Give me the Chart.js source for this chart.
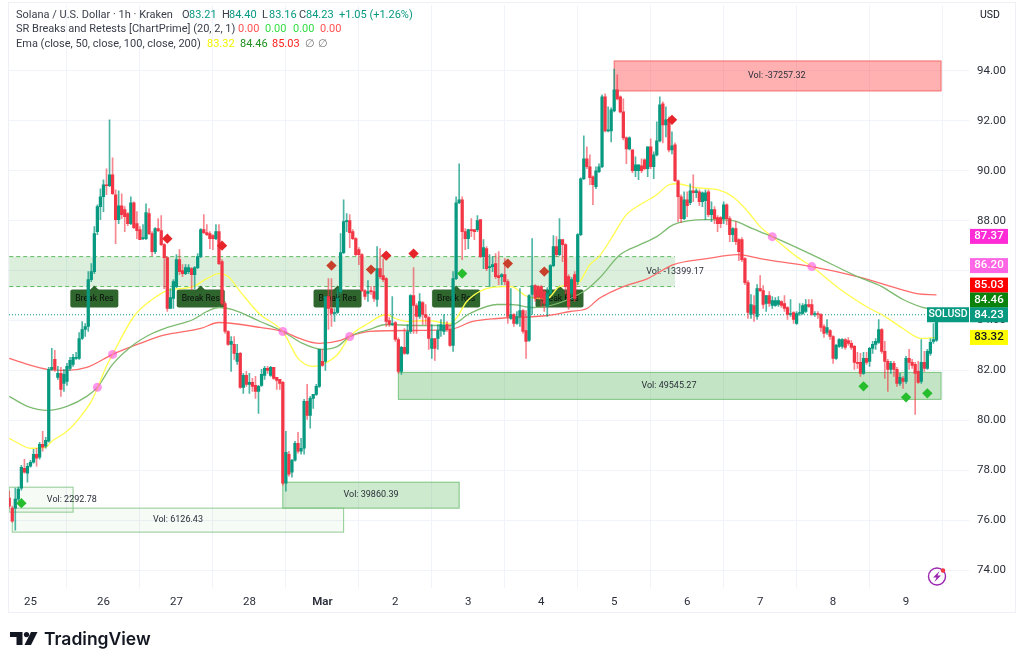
<!DOCTYPE html>
<html>
<head>
<meta charset="utf-8">
<style>
  html, body { margin: 0; padding: 0; background: #fff; }
  #wrap { position: relative; width: 1024px; height: 666px; }
</style>
<script src="https://cdn.jsdelivr.net/npm/chart.js@4"></script>
</head>
<body>
<div id="wrap"><canvas id="chart" width="1024" height="666"></canvas></div>
<script>
// hours counted from 25 Feb 00:00, first candle is at -7
const firstHour = -7;

const opens = [
  76.88,76.48,76.48,76.84,77.28,78.08,77.88,78.16,78.32,78.64,78.52,79.04,
  78.96,79.16,82.04,82.44,81.72,81.88,81.48,81.56,82.08,82.24,82.48,82.48,
  83.28,83.64,83.76,85.64,85.96,87.56,88.56,88.96,89.44,89.4,89.84,89.04,
  88.04,88.6,88.44,88.28,87.88,88.72,87.88,87.64,87.28,87.28,88.28,87.48,
  86.76,87.68,87.6,87.04,86.52,84.48,84.88,85.36,86.44,86,85.88,85.96,
  86.08,85.84,86.12,86.56,87.64,87.52,87.48,87.4,87.28,87.56,86.36,84.68,
  83.56,83.04,83.04,82.36,82.68,81.32,81.8,81.44,81.52,81.4,81.16,81.4,
  81.8,82.08,81.8,82.12,81.72,81.64,81.52,77.48,78.64,77.92,78.4,79.08,
  78.76,78.88,80.76,80.2,80.88,81.04,81.36,82.36,82.36,84.96,84.48,84.28,
  84.32,85.16,86.72,87.96,88,87.56,87.28,86.84,86.64,85.2,85.08,85.2,
  85.16,84.84,86.08,85.8,85.68,84,83.84,83.92,83.24,81.96,82.92,82.68,
  83.56,85,84.6,84.16,84.72,84.24,84.12,82.88,83.28,83.28,83.6,83.56,
  83.84,83.64,83,85.68,88.72,88.84,87.56,87.28,87.64,87.64,87.64,88.04,
  86.56,86.88,86.12,86.16,86.28,85.8,85.76,85.84,85.56,84.08,84.24,83.88,
  84.16,84.4,83.6,83.2,85.04,85.4,85.36,85.36,85.16,84.56,85.08,86.2,
  86.96,86.64,87.24,87.04,85.76,85.08,85.84,85.56,87.44,89.68,90.48,90.16,
  89.76,89.36,89.96,90.16,92.96,91.6,91.6,92.4,93.24,92.96,92.36,91.32,
  90.88,90.84,90,90,90.2,90.44,90.08,90.96,90.16,90.64,91.2,92.68,
  91.84,92.04,90.84,91.04,89.6,88.96,88.08,88.84,88.72,89.2,89.12,89.16,
  88.76,88.8,89.16,88.24,88.44,88.12,88.12,88.08,88.64,88.08,87.44,87.68,
  87.24,87.24,86.48,85.52,84.24,84.6,84.16,85.28,85.2,84.68,85,84.6,
  84.6,84.64,84.76,84.68,84.52,84.24,84.32,83.88,84.28,84.28,84.36,84.64,
  84.64,84.24,84.28,84.24,83.76,83.52,83.6,83.36,82.48,82.96,82.96,83.24,
  83.2,83.08,82.96,82.32,82.32,81.88,82.48,82.36,82.88,83.04,83.12,83.64,
  82.76,82.36,82.04,82.28,82.04,81.48,81.68,81.56,82.48,82.32,82.24,81.96,
  81.56,82.32,82.08,82.68,83.16,83.21
];
const closes = [
  76.56,75.96,76.84,77.24,78.12,77.92,78.16,78.32,78.64,78.48,79.04,78.92,
  79.2,82.04,82.12,82.04,81.88,81.24,81.84,82.16,82.4,82.52,82.52,83.28,
  83.64,83.76,85.64,85.96,87.48,88.56,88.96,89.44,89.4,89.84,89.08,88.04,
  88.6,88.24,88.16,87.88,88.72,87.72,87.6,87.24,87.32,88.32,87.48,86.76,
  87.68,87.6,87.04,86.52,84.48,84.92,85.56,86.44,85.96,85.88,86.12,86.12,
  85.84,86.12,86.56,87.64,87.52,87.44,87.28,87.28,87.56,86.28,84.68,83.56,
  83.04,83.16,82.68,82.68,81.32,81.8,81.44,81.52,81.36,81.16,81.36,81.84,
  82.08,82,82.12,81.68,81.6,81.48,77.48,78.72,77.84,78.4,79.08,78.76,
  78.88,80.76,80.2,80.88,81.04,81.36,82.84,82.2,84.96,84.48,84.28,84.32,
  84.88,86.72,87.96,88,87.52,87.28,86.64,86.64,85.2,84.96,85.16,85.16,
  84.88,86.08,85.76,85.64,83.96,83.84,83.88,83.24,81.96,82.92,82.68,83.56,
  85,84.6,84.16,84.76,84.24,84.12,83.28,83.28,82.88,83.6,83.84,83.8,
  83.64,83,85.68,88.72,88.84,87.56,87.28,87.64,87.6,87.56,88,86.56,
  86.92,86.08,86.16,86.24,85.76,85.72,85.84,85.56,84.16,84.24,83.88,84.16,
  84.4,83.56,83.16,85,85.4,84.88,84.96,84.88,84.68,85.08,86.2,86.96,
  86.64,87.24,87.04,85.36,84.56,85.64,84.88,87.44,89.68,90.48,90.16,89.72,
  89.44,90,90.16,92.96,91.6,91.64,92.44,93.24,92.88,92.36,91.32,90.88,
  91.32,90,90.24,90.24,90,90.08,90.96,90.16,90.64,91.2,92.64,91.84,
  92.04,90.84,91,89.6,88.96,88.08,88.84,88.6,89.2,89.12,89.2,88.76,
  89.12,89.12,88.24,88.44,88.08,87.88,87.88,88.64,88.08,87.44,87.68,87.16,
  86.76,86.44,85.52,84.32,84.64,84.28,85.28,85.2,84.64,85,84.68,84.8,
  84.8,84.8,84.6,84.48,84.24,84.28,84.04,84.28,84.32,84.6,84.64,84.56,
  84.24,84.28,84.24,83.72,83.48,83.72,83.36,82.48,83,83.24,83.24,82.92,
  83.08,82.92,82.32,82.28,81.88,82.48,82.32,82.88,83.04,83.16,83.64,82.76,
  82.36,82.04,82.28,82.04,81.48,81.72,81.56,82.48,82.32,82.2,81.88,81.52,
  82.32,82.08,82.76,83.12,83.24,84.23
];
const highs = [
  77.16,76.56,77.28,77.32,78.2,78.44,78.28,78.4,78.84,78.88,79.12,79.56,
  79.32,82.12,82.88,82.8,82.16,82.12,82.04,82.28,82.52,82.64,82.72,83.52,
  83.96,83.88,85.96,86.28,87.76,88.64,89.28,89.64,90.08,92.04,90.52,89.24,
  89.2,89.08,88.56,88.32,88.96,88.76,88.36,87.76,87.84,88.68,88.48,87.56,
  87.72,88.08,88.2,87.08,86.56,85.28,85.64,86.64,86.84,86.24,86.24,86.24,
  86.12,86.16,86.68,87.68,88.24,87.84,87.56,87.44,87.84,87.84,86.44,84.76,
  83.6,83.36,83.36,83.04,82.72,81.88,81.96,81.88,81.68,81.76,81.4,82.04,
  82.16,82.16,82.16,82.12,81.72,81.64,81.56,79.56,78.76,78.44,79.16,79.52,
  79.28,80.84,81.44,80.96,81.04,81.44,82.84,82.84,84.96,85.68,85.68,84.48,
  85.28,87.48,88.84,88.28,88.24,87.64,87.32,86.92,86.68,85.24,85.6,85.36,
  85.36,86.96,86.88,86.48,85.72,84.12,84.96,83.96,83.32,82.96,83.68,83.84,
  85.04,86.12,84.68,85.08,84.76,84.64,84.16,83.84,83.28,83.84,84.04,84.24,
  83.96,83.84,85.96,88.96,90.28,88.96,87.68,87.64,88.08,87.64,88.2,88.04,
  87.24,86.96,86.64,86.56,86.68,86.76,85.88,86.48,85.64,85.28,84.28,84.36,
  85.28,84.44,84.4,85.04,87.28,85.44,85.4,85.4,85.24,85.32,86.24,87.4,
  87.36,88.08,87.24,87.08,85.84,85.72,85.96,87.48,89.72,91.4,90.96,90.64,
  89.8,90.16,90.28,93.04,93.08,92.56,92.52,94.08,93.84,93,92.88,91.36,
  91.36,90.84,90.56,90.24,90.48,90.48,90.96,91.28,90.76,91.96,92.96,92.76,
  92.56,92.16,91.56,91.12,89.64,89.04,89.16,89.16,89.48,89.84,89.28,89.24,
  89.16,89.24,89.24,88.76,88.56,88.2,88.16,88.76,88.68,88.16,87.72,87.96,
  87.28,87.32,86.52,85.6,85.04,85,85.44,85.8,85.4,85,85.16,84.96,
  84.92,84.96,84.8,85,84.56,84.84,84.36,84.36,84.68,84.68,84.84,84.84,
  84.84,84.36,84.36,84.28,83.84,84.04,83.64,83.4,83.04,83.28,83.28,83.28,
  83.32,83.2,83,82.72,82.68,82.72,82.72,82.92,83.16,83.28,84.04,83.68,
  83.16,82.44,82.36,82.36,82.12,81.88,81.76,82.56,82.84,82.44,82.32,82.36,
  83.24,82.76,82.84,83.28,83.88,84.4
];
const lows = [
  76.48,75.92,75.6,76.76,77.2,77.88,77.52,78.12,78.28,78.16,78.44,78.76,
  78.88,79.12,82,81.96,81.64,80.96,81.16,81.4,82,82.16,82.44,82.44,
  83.24,83.36,83.56,85.56,85.88,87.44,88.04,88.36,89.04,89.36,89.04,87.08,
  87.88,88.08,87.56,87.8,87.84,87.68,87.28,87.24,87.24,87.24,87.44,86.6,
  86.68,87.56,87,85.28,84.36,84.48,84.48,85.32,85.84,85.76,85.84,85.88,
  85.24,85.28,86.08,86.52,87.48,87.4,86.88,86.84,87.24,86.24,84.6,83.48,
  83,81.96,82.44,82.24,81.28,81.08,81.36,81.08,81.16,80.88,80.28,81.36,
  81.64,81.88,81.76,81.64,81.24,81.24,77.4,77.16,77.76,77.72,78.36,78.68,
  78.64,78.64,80.04,79.68,80.48,81,81.32,82.16,82,83.64,83.76,83.96,
  84.28,85.08,86.68,87.56,86.92,87.24,86.6,86.24,85.16,84.84,84.76,85.04,
  84.76,84.56,85.68,85.56,83.76,83.76,83.8,83.16,81.88,81.84,82.64,82.64,
  83.48,83.48,83.48,84.08,83.84,83.84,82.84,82.48,82.4,82.84,83.36,83.44,
  83.56,82.96,82.76,85.64,88.68,86.44,86.84,86.88,87.36,87.24,87.56,86.52,
  86.08,86,85.36,85.96,85.68,85.44,85.44,85.44,83.88,84.04,83.76,83.84,
  83.76,83.48,82.48,83.16,84.24,84.76,84.84,84.56,84.36,84.16,85.04,86.16,
  86.56,86.6,86.36,85.04,84.44,84.84,84.76,85.44,87.4,89.64,90.08,89.44,
  88.64,89.28,89.92,90.12,91.56,91.56,91.16,92.36,92.84,92.32,91.24,90.28,
  90.84,89.92,89.76,89.64,89.92,90.04,89.76,90.08,89.68,90.6,91.16,91.12,
  91.36,90.76,90.68,89.56,87.96,87.92,88.04,88.16,88.64,88.76,88.92,88.6,
  88.56,88.04,88.16,87.96,87.88,87.56,87.72,87.88,87.84,87.16,87.16,87.04,
  86.4,86.36,85.44,84.08,84.08,83.96,84.04,85.16,84.48,84.36,84.56,84.48,
  84.56,84.56,84.52,84.36,84.04,84.16,83.88,83.84,84.2,84.24,84.32,84.52,
  84.2,84.16,84.08,83.56,83.32,83.44,83.24,82.28,82.44,82.92,82.88,82.84,
  83,82.84,82.04,82.08,81.76,81.84,82.24,82.16,82.68,82.84,83.08,82.68,
  81.68,81.16,81.88,81.76,81.36,81.4,81.28,81.48,82.04,82.08,80.24,81.48,
  81.48,81.96,82.04,82.6,83.08,83.16
];

const ema50Hours = [-7,-4,0,5,7,12,16,20,22,24.5,27,34,40,45,53.5,58,62,65,69,75.5,83,88,93,96,101,105,111,117,120,124,130.5,138,140,143.5,149,155.5,158,163.5,170,174,180,184,187,191,196,200.5,206,210,212.5,219,226,231,236,240,244,252,257,266,276,280,287,293,298];
const ema50Values = [79.28,79.08,78.88,78.92,79.16,79.56,80.08,80.76,81.28,82.04,82.64,84.16,84.84,85.2,85.36,85.68,85.88,85.76,85.16,84.24,83.56,82.48,82.16,82.24,82.64,83.36,83.88,84.24,84.08,83.96,84,83.88,84.08,84.76,85.24,85.36,85.36,84.96,84.88,85.36,85.48,86.24,86.56,87.28,88.24,88.64,89.04,89.44,89.48,89.32,89.24,88.96,88.36,87.76,87.36,86.56,86.16,85.28,84.48,84.24,83.68,83.28,83.32];
const ema100Hours = [-7,-1,5.5,12,18.5,22,27,34,40,45,53.5,58,62,66.5,75.5,83,89.5,96,101,105,111.5,117,127,138,144.5,153.5,158,165.5,182,187,194,200.5,206,211.5,222.5,231,237.5,244,257,272,280,287,295,298];
const ema100Values = [80.96,80.56,80.4,80.56,80.96,81.32,82.24,83.04,83.48,83.72,84.04,84.36,84.52,84.44,83.96,83.56,83.08,82.84,82.96,83.36,83.64,83.84,83.8,83.8,84.28,84.64,84.64,84.52,85.16,85.68,86.64,87.04,87.36,87.84,88.04,88,87.68,87.36,86.64,85.76,85.36,84.84,84.48,84.46];
const ema200Hours = [-7,-1,5.5,12,18.5,27,36,43.5,56,62,66.5,75.5,83,88.5,95,102,105,111.5,127,138,145.5,153.5,170,177.5,183,187,195,203,211.5,222.5,232.5,240,244,257,272,280,291.5,298];
const ema200Values = [82.48,82.24,82.04,82,82.12,82.64,83.08,83.4,83.68,83.92,83.88,83.72,83.56,83.28,83.08,83.2,83.36,83.56,83.6,83.64,83.96,84.08,84.2,84.36,84.48,84.88,85.36,85.68,86.24,86.48,86.64,86.48,86.4,86.16,85.76,85.48,85.08,85.03];

// ema crossings
const crossHours = [22,27,83,105,244,257];
const crossPrices = [81.32,82.64,83.56,83.36,87.36,86.16];

const resistanceHours = [45,63,99,112,117,126,157,169,211];
const resistancePrices = [87.28,87,86.2,86.04,86.6,86.68,86.28,85.96,92.04];
const resistanceColors = ["#e62429","#e62429","#c8402c","#c8402c","#e62429","#e62429","#c8402c","#c8402c","#e62429"];
const supportHours = [-3,142,274,288,295];
const supportPrices = [76.68,85.88,81.36,80.92,81.08];

// volume boxes
const zoneStart = [-7,-6,83,121,192,-7];
const zoneEnd = [14,103,141,299.5,299.5,212];
const zoneTop = [77.32,76.48,77.52,81.92,94.4,86.56];
const zoneBottom = [76.32,75.52,76.48,80.84,93.2,85.36];
const zoneLabels = ["Vol: 2292.78","Vol: 6126.43","Vol: 39860.39","Vol: 49545.27","Vol: -37257.32","Vol: -13399.17"];
const zoneLabelHours = [13.6,48.5,112,210,245.5,212];

const breakHours = [21,56,101,140,174];
const breakPrices = [85.4,85.4,85.4,85.4,85.4];

const dayTicks = [0,24,48,72,96,120,144,168,192,216,240,264,288];
const dayLabels = ["25","26","27","28","Mar","2","3","4","5","6","7","8","9"];
const priceTicks = [74,76,78,80,82,84,86,88,90,92,94];

const tagValues = [87.37,86.20,85.03,84.46,84.23,83.32];
const tagColors = ["#ff2bd6","#ff66e6","#ff0000","#0b820b","#089981","#ffff00"];
const tagText = ["#fff","#fff","#fff","#fff","#fff","#131722"];
const tagNudge = [0,0,-9.7,-9,0,0];   // tradingview pushes labels apart

const UP = "#089981";
const DOWN = "#f23645";
const FONT = "Roboto, sans-serif";

const hours = opens.map((_, i) => firstHour + i);
const pairs = (xs, ys) => xs.map((x, i) => ({ x: x, y: ys[i] }));
const colour = i => closes[i] >= opens[i] ? UP : DOWN;
const wickColour = i => closes[i] >= opens[i] ? "rgba(8,153,129,0.72)" : "rgba(242,54,69,0.6)";

function emaLine(label, xs, ys, color) {
  return {
    type: "line", label: label, data: pairs(xs, ys), borderColor: color, borderWidth: 1.3,
    pointRadius: 0, cubicInterpolationMode: "monotone", order: 5
  };
}

function txt(ctx, s, x, y, color, font, align) {
  ctx.fillStyle = color;
  ctx.font = font || "11px " + FONT;
  ctx.textAlign = align || "left";
  ctx.textBaseline = "middle";
  ctx.fillText(s, x, y);
}

// boxes and flags sit under the candles
const underlay = {
  id: "underlay",
  beforeDatasetsDraw(chart) {
    const ctx = chart.ctx, sx = chart.scales.x, sy = chart.scales.y;
    ctx.save();
    ctx.beginPath();
    ctx.rect(chart.chartArea.left, chart.chartArea.top, chart.chartArea.width, chart.chartArea.height);
    ctx.clip();

    const fills = ["rgba(76,175,80,0.05)","rgba(76,175,80,0.05)","rgba(76,175,80,0.28)","rgba(76,175,80,0.33)","rgba(255,82,82,0.45)","rgba(76,175,80,0.2)"];
    const edges = ["#8fcb91","#8fcb91","#7cc47f","#7cc47f","#f56a6a","#5fbb63"];
    zoneStart.forEach((z, i) => {
      const x0 = sx.getPixelForValue(z), x1 = sx.getPixelForValue(zoneEnd[i]);
      const y0 = sy.getPixelForValue(zoneTop[i]), y1 = sy.getPixelForValue(zoneBottom[i]);
      ctx.fillStyle = fills[i];
      ctx.fillRect(x0, y0, x1 - x0, y1 - y0);
      ctx.strokeStyle = edges[i];
      ctx.lineWidth = 1;
      if (i === 5) {
        ctx.setLineDash([4, 3]);
        ctx.beginPath();
        ctx.moveTo(x0, y0); ctx.lineTo(x1, y0);
        ctx.moveTo(x0, y1); ctx.lineTo(x1, y1);
        ctx.stroke();
        ctx.setLineDash([]);
      } else {
        ctx.strokeRect(x0, y0, x1 - x0, y1 - y0);
      }
      txt(ctx, zoneLabels[i], sx.getPixelForValue(zoneLabelHours[i]), (y0 + y1) / 2, "#2a2e39", "9px " + FONT, "center");
    });

    // last price dotted line
    const py = sy.getPixelForValue(closes[closes.length - 1]);
    ctx.strokeStyle = "#089981";
    ctx.setLineDash([1, 2]);
    ctx.beginPath();
    ctx.moveTo(chart.chartArea.left, py);
    ctx.lineTo(sx.getPixelForValue(hours[hours.length - 1]), py);
    ctx.stroke();
    ctx.setLineDash([]);

    breakHours.forEach((h, i) => {
      const cx = sx.getPixelForValue(h), tip = sy.getPixelForValue(breakPrices[i]);
      ctx.fillStyle = "#2e662e";
      ctx.beginPath();
      ctx.moveTo(cx, tip);
      ctx.lineTo(cx + 5, tip + 5);
      ctx.lineTo(cx - 5, tip + 5);
      ctx.fill();
      ctx.beginPath();
      ctx.roundRect(cx - 24, tip + 4, 48, 18, 2);
      ctx.fill();
      txt(ctx, "Break Res", cx, tip + 13, "#0d0d0d", "8.6px " + FONT, "center");
    });
    ctx.restore();
  }
};

const overlay = {
  id: "overlay",
  afterDraw(chart) {
    const ctx = chart.ctx, sy = chart.scales.y;
    ctx.save();

    // panel frame
    ctx.strokeStyle = "#eef0f5";
    ctx.lineWidth = 1;
    ctx.strokeRect(8.5, 2.5, 1007, 610);

    // legend rows
    const dark = "#3a3e4a", teal = "#089981";
    txt(ctx, "Solana / U.S. Dollar \u00b7 1h \u00b7 Kraken", 16, 15, dark);
    [["O", 182, "83.21", 189], ["H", 222, "84.40", 229], ["L", 262, "83.16", 269], ["C", 299, "84.23", 306]].forEach(r => {
      txt(ctx, r[0], r[1], 15, dark);
      txt(ctx, r[2], r[3], 15, teal);
    });
    txt(ctx, "+1.05 (+1.26%)", 339, 15, teal);
    txt(ctx, "SR Breaks and Retests [ChartPrime] (20, 2, 1)", 16, 29.5, dark);
    txt(ctx, "0.00", 238, 29.5, "#ff5252");
    txt(ctx, "0.00", 265, 29.5, "#33dd44");
    txt(ctx, "0.00", 293, 29.5, "#33dd44");
    txt(ctx, "0.00", 320, 29.5, "#ff5252");
    txt(ctx, "Ema (close, 50, close, 100, close, 200)", 16, 44.5, dark);
    txt(ctx, "83.32", 207, 44.5, "#f5f500");
    txt(ctx, "84.46", 240, 44.5, "#1f8f1f");
    txt(ctx, "85.03", 272, 44.5, "#ff2020");
    txt(ctx, "\u2205", 305, 44.5, "#777");
    txt(ctx, "\u2205", 318, 44.5, "#777");

    txt(ctx, "USD", 980, 15, "#131722", "10.5px " + FONT);

    // price tags on the axis
    tagValues.forEach((v, i) => {
      const y = sy.getPixelForValue(v) + tagNudge[i];
      ctx.fillStyle = tagColors[i];
      ctx.fillRect(970, y - 7.5, 38, 15);
      txt(ctx, v.toFixed(2), 989, y, tagText[i], "500 11.5px " + FONT, "center");
    });
    const lastY = sy.getPixelForValue(tagValues[4]);
    ctx.fillStyle = UP;
    ctx.fillRect(927, lastY - 7.5, 42, 15);
    txt(ctx, "SOLUSD", 948, lastY, "#fff", "500 10.5px " + FONT, "center");

    // lightning badge
    ctx.strokeStyle = "#9c27b0";
    ctx.lineWidth = 1.4;
    ctx.beginPath();
    ctx.arc(937, 576.5, 8.5, 0, Math.PI * 2);
    ctx.stroke();
    ctx.fillStyle = "#9c27b0";
    ctx.beginPath();
    ctx.moveTo(939.5, 571); ctx.lineTo(933, 577.5); ctx.lineTo(936.5, 577.5);
    ctx.lineTo(934.5, 582); ctx.lineTo(941, 575.5); ctx.lineTo(937.5, 575.5);
    ctx.closePath(); ctx.fill();
    ctx.fillStyle = "#f23645";
    ctx.beginPath();
    ctx.arc(943, 570.5, 2.2, 0, Math.PI * 2);
    ctx.fill();

    // TradingView logo
    ctx.fillStyle = "#131722";
    ctx.fillRect(10, 632, 12.5, 5);
    ctx.fillRect(16.5, 637, 6, 8);
    ctx.beginPath();
    ctx.arc(26.5, 634.6, 2.6, 0, Math.PI * 2);
    ctx.fill();
    ctx.beginPath();
    ctx.moveTo(31, 632); ctx.lineTo(37.5, 632); ctx.lineTo(31, 645); ctx.lineTo(24.5, 645);
    ctx.closePath(); ctx.fill();
    txt(ctx, "TradingView", 44, 639.5, "#131722", "600 17.5px Inter, " + FONT);

    ctx.restore();
  }
};

new Chart(document.getElementById("chart"), {
  type: "bar",
  data: {
    datasets: [
      {
        type: "scatter", label: "cross", data: pairs(crossHours, crossPrices),
        backgroundColor: "rgba(255,64,220,0.55)", borderWidth: 0, pointRadius: 4.5, order: 0
      },
      {
        type: "scatter", label: "resistance", data: pairs(resistanceHours, resistancePrices),
        backgroundColor: resistanceColors, borderWidth: 0, pointStyle: "rectRot", pointRadius: 5.2, order: 0
      },
      {
        type: "scatter", label: "support", data: pairs(supportHours, supportPrices),
        backgroundColor: "#26bd2e", borderWidth: 0, pointStyle: "rectRot", pointRadius: 5.2, order: 0
      },
      {
        label: "body", grouped: false, barThickness: 2.6, minBarLength: 1, order: 2,
        data: hours.map((h, i) => ({ x: h, y: [opens[i], closes[i]] })),
        backgroundColor: ctx => colour(ctx.dataIndex)
      },
      {
        label: "wick", grouped: false, barThickness: 1, order: 3,
        data: hours.map((h, i) => ({ x: h, y: [lows[i], highs[i]] })),
        backgroundColor: ctx => wickColour(ctx.dataIndex)
      },
      emaLine("EMA 50", ema50Hours, ema50Values, "#ffff4d"),
      emaLine("EMA 100", ema100Hours, ema100Values, "#7dbb70"),
      emaLine("EMA 200", ema200Hours, ema200Values, "#ff6b6b")
    ]
  },
  options: {
    responsive: false,
    animation: false,
    layout: { padding: { left: 9, top: 3, right: 9, bottom: 54 } },
    plugins: { legend: { display: false }, tooltip: { enabled: false } },
    scales: {
      x: {
        type: "linear",
        min: -7.07,
        max: 308.7,
        offset: false,
        afterBuildTicks: s => { s.ticks = dayTicks.map(v => ({ value: v })); },
        afterFit: s => { s.height = 24; s.paddingLeft = 0; s.paddingRight = 0; },
        grid: { color: "#f0f3fa", drawTicks: false },
        border: { display: false },
        ticks: {
          autoSkip: false, maxRotation: 0, padding: 7,
          color: "#2a2e39",
          font: ctx => ({ family: "Roboto", size: 11.5, weight: ctx.index === 4 ? "600" : "400" }),
          callback: (v, i) => dayLabels[i]
        }
      },
      y: {
        position: "right",
        min: 73.28,
        max: 96.635,
        afterBuildTicks: s => { s.ticks = priceTicks.map(v => ({ value: v })); },
        afterFit: s => { s.width = 46; s.paddingTop = 0; s.paddingBottom = 0; },
        grid: { color: "#f0f3fa", drawTicks: false },
        border: { display: false },
        ticks: {
          padding: 8, color: "#2a2e39", font: { family: "Roboto", size: 11.5 },
          callback: v => v.toFixed(2)
        }
      }
    }
  },
  plugins: [underlay, overlay]
});
</script>
</body>
</html>
